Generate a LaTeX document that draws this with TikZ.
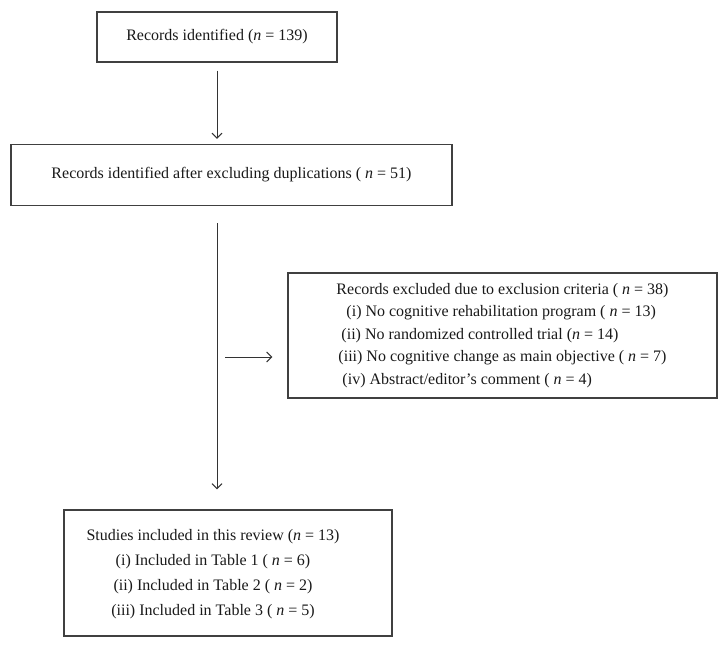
\documentclass[tikz,border=0pt]{standalone}
\usepackage{fontspec}
\setmainfont{Liberation Serif}
\usepackage{tikz}
\usetikzlibrary{arrows.meta, positioning}
\tikzset{
  >={Straight Barb[length=5pt, width=10pt]}, % open arrow heads as in the flow chart
  every edge/.style={draw, ->, line width=1pt, black!80}, % all connectors are plain arrows
  record/.style={draw, rectangle, line width=1.2pt, black!75, text=black!90, inner sep=0pt}, % sets the properties for each box
  onerow/.style={record, font=\fontsize{16pt}{22pt}\selectfont},
}

\begin{document}
\begin{tikzpicture}[x=1pt, y=-1pt]
    \useasboundingbox (0,0) rectangle (728,647);

    \node[onerow, minimum width=240pt, minimum height=50pt] (IDENTIFIED) at (217,37)
        {Records identified (\textit{n} = 139)};
    \node[onerow, minimum width=441pt, minimum height=61pt] (DEDUPLICATED) at (231.5,175)
        {Records identified after excluding duplications ( \textit{n} = 51)};
    \node[record, align=left, font=\fontsize{16pt}{22.6pt}\selectfont,
          minimum width=429pt, minimum height=125pt] (EXCLUDED) at (502.5,335.5)
        {Records excluded due to exclusion criteria ( \textit{n} = 38)\\
         \hspace*{10pt}(i) No cognitive rehabilitation program ( \textit{n} = 13)\\
         \hspace*{5pt}(ii) No randomized controlled trial (\textit{n} = 14)\\
         \hspace*{2pt}(iii) No cognitive change as main objective ( \textit{n} = 7)\\
         \hspace*{6pt}(iv) Abstract/editor’s comment ( \textit{n} = 4)};
    \node[record, font=\fontsize{16pt}{25pt}\selectfont,
          minimum width=328pt, minimum height=126pt] (INCLUDED) at (228,573)
        {\begin{tabular}{@{}c@{}}
         Studies included in this review (\textit{n} = 13)\\
         (i) Included in Table 1 ( \textit{n} = 6)\\
         (ii) Included in Table 2 ( \textit{n} = 2)\\
         (iii) Included in Table 3 ( \textit{n} = 5)
         \end{tabular}\hspace*{30pt}};

    \coordinate (BRANCH) at (218,357);

    \draw (IDENTIFIED.south) edge[shorten <=8pt, shorten >=5pt] (IDENTIFIED.south |- DEDUPLICATED.north)
          (DEDUPLICATED.south -| IDENTIFIED.south) edge[shorten <=17pt, shorten >=20pt] (INCLUDED.north -| IDENTIFIED.south)
          (BRANCH) edge[shorten <=7pt, shorten >=15pt] (BRANCH -| EXCLUDED.west)
          ;
\end{tikzpicture}
\end{document}
